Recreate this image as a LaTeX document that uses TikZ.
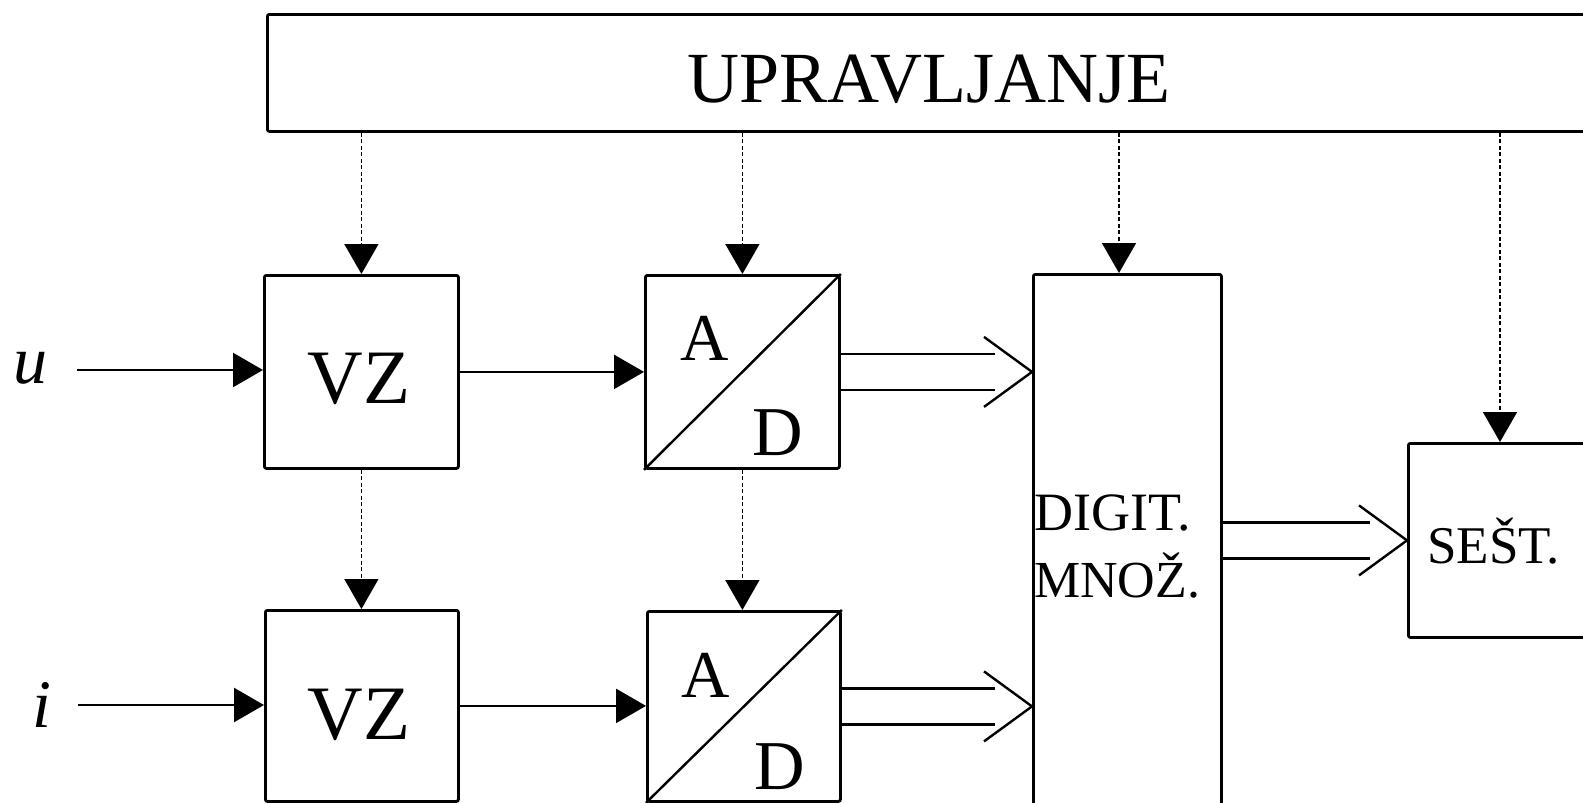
\documentclass[tikz,border=0pt]{standalone}
\usepackage{fontspec}
\setmainfont{Liberation Serif}
\usetikzlibrary{arrows.meta,calc}
\newcommand\fsz[1]{\fontsize{#1}{#1}\selectfont}
\begin{document}
\begin{tikzpicture}[x=1pt,y=-1pt,
  blk/.style={draw, line width=2.8pt, rounded corners=2pt, inner sep=0pt, anchor=north west},
  ctl/.style={line width=1.6pt, dash pattern=on 4pt off 2.5pt, -{Triangle[length=30pt,width=34pt]}},
  sig/.style={line width=2.4pt, -{Triangle[length=30pt,width=34pt]}},
  bus/.style={line width=2.4pt},
  diag/.style={line width=2.4pt},
  lbl/.style={inner sep=0pt, anchor=base}]
\useasboundingbox (0,0) rectangle (1583,803);
\clip (0,0) rectangle (1583,803);
% blocks
\node[blk, minimum width=1400pt, minimum height=117pt] (upr) at (266,13) {};
\node[blk, minimum width=194pt, minimum height=193pt] (vz1) at (263,274) {};
\node[blk, minimum width=194pt, minimum height=193pt] (ad1) at (644,274) {};
\node[blk, minimum width=193pt, minimum height=191pt] (vz2) at (264,609) {};
\node[blk, minimum width=193pt, minimum height=190pt] (ad2) at (646,610) {};
\node[blk, minimum width=188pt, minimum height=560pt] (dig) at (1032,273) {};
\node[blk, minimum width=220pt, minimum height=194pt] (sest) at (1407,442) {};
% texts
\node[lbl] (tupr) at (929,102) {\fsz{72}UPRAVLJANJE};
\node[lbl] (tvz1) at (359,403) {\fsz{77}VZ};
\node[lbl] (tvz2) at (359,739) {\fsz{77}VZ};
\node[lbl] (ta1) at (705,360) {\fsz{67}A};
\node[lbl] (td1) at (778,455) {\fsz{70}D};
\node[lbl] (ta2) at (706,697) {\fsz{67}A};
\node[lbl] (td2) at (780,789) {\fsz{70}D};
\node[lbl, anchor=base west] (tdig1) at (1034,530) {\fsz{54}DIGIT.};
\node[lbl, anchor=base west] (tdig2) at (1034,597) {\fsz{52}MNOŽ.};
\node[lbl, anchor=base west] (tsest) at (1427,563) {\fsz{53}SEŠT.};
\node[lbl] (tu) at (30,383) {\fsz{68}\itshape u};
\node[lbl] (ti) at (42,727) {\fsz{68}\itshape i};
% A/D diagonals
\draw[diag] (ad1.south west) -- (ad1.north east);
\draw[diag] (ad2.south west) -- (ad2.north east);
% control lines
\coordinate (dx) at (1119,0);
\coordinate (sx) at (1500,0);
\draw[ctl] (vz1.north |- upr.south) -- (vz1.north);
\draw[ctl] (ad1.north |- upr.south) -- (ad1.north);
\draw[ctl] (dx |- upr.south) -- (dx |- dig.north);
\draw[ctl] (sx |- upr.south) -- (sx |- sest.north);
\draw[ctl] (vz1.south) -- (vz1.south |- vz2.north);
\draw[ctl] (ad1.south) -- (ad1.south |- ad2.north);
% signal lines
\coordinate (uin) at (77,370);
\coordinate (iin) at (78,705);
\draw[sig] (uin) -- (uin -| vz1.west);
\draw[sig] (iin) -- (iin -| vz2.west);
\draw[sig] (vz1.east) -- (vz1.east -| ad1.west);
\draw[sig] (vz2.east) -- (vz2.east -| ad2.west);
% bus arrows
\coordinate (t1) at (ad1.east -| dig.west);
\draw[bus] ([yshift=18pt]ad1.east) -- ([shift={(-37pt,18pt)}]t1);
\draw[bus] ([yshift=-18pt]ad1.east) -- ([shift={(-37pt,-18pt)}]t1);
\draw[bus] ([shift={(-48pt,35pt)}]t1) -- (t1) -- ([shift={(-48pt,-35pt)}]t1);
\coordinate (t2) at (ad2.east -| dig.west);
\draw[bus] ([yshift=18pt]ad2.east) -- ([shift={(-37pt,18pt)}]t2);
\draw[bus] ([yshift=-18pt]ad2.east) -- ([shift={(-37pt,-18pt)}]t2);
\draw[bus] ([shift={(-48pt,35pt)}]t2) -- (t2) -- ([shift={(-48pt,-35pt)}]t2);
\coordinate (t3) at (sest.west);
\coordinate (s3) at (dig.east |- t3);
\draw[bus] ([yshift=18pt]s3) -- ([shift={(-37pt,18pt)}]t3);
\draw[bus] ([yshift=-18pt]s3) -- ([shift={(-37pt,-18pt)}]t3);
\draw[bus] ([shift={(-48pt,35pt)}]t3) -- (t3) -- ([shift={(-48pt,-35pt)}]t3);
\end{tikzpicture}
\end{document}
